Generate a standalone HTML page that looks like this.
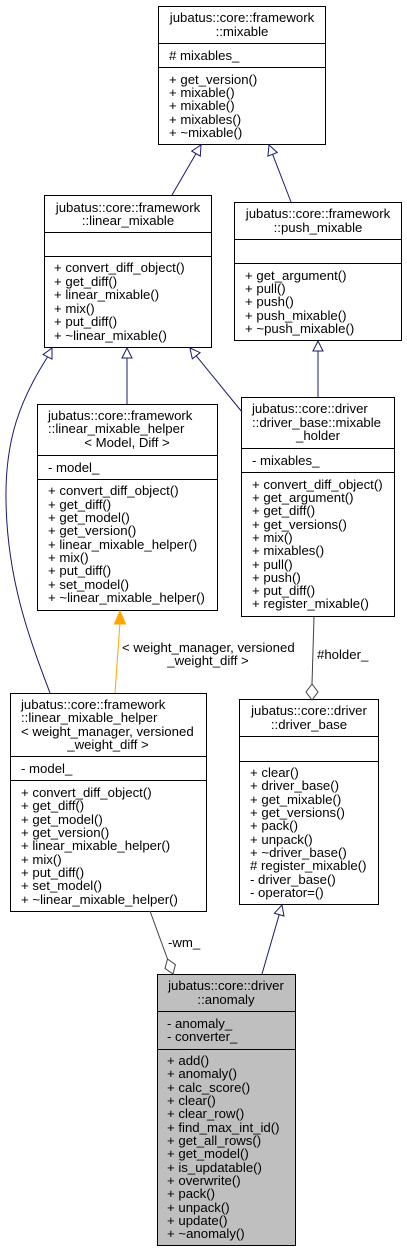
<!DOCTYPE html>
<html><head><meta charset="utf-8"><style>
html,body{margin:0;padding:0;background:#fff;}
svg{display:block;}
text{font-family:"Liberation Sans",Arial,sans-serif;font-size:13.2px;fill:#000;}
.b{fill:#fff;stroke:#000;stroke-width:1;}
.g{fill:#bfbfbf;stroke:#000;stroke-width:1;}
.e{fill:none;stroke:#191970;stroke-width:1;}
.t{fill:#fff;stroke:#191970;stroke-width:1;}
</style></head><body>
<svg width="407" height="1252" viewBox="0 0 407 1252" xmlns="http://www.w3.org/2000/svg">
<!-- mixable -->
<rect class="b" x="158.5" y="6.5" width="167" height="138"/>
<line x1="158.5" y1="43.5" x2="325.5" y2="43.5" stroke="#000"/>
<line x1="158.5" y1="67.5" x2="325.5" y2="67.5" stroke="#000"/>
<text x="242" y="22" text-anchor="middle">jubatus::core::framework</text>
<text x="242" y="36" text-anchor="middle">::mixable</text>
<text x="169" y="60">#&#160;mixables_</text>
<text x="169" y="84">+ get_version()</text>
<text x="169" y="97">+ mixable()</text>
<text x="169" y="110">+ mixable()</text>
<text x="169" y="124">+ mixables()</text>
<text x="169" y="137">+ ~mixable()</text>

<!-- linear_mixable -->
<rect class="b" x="44.5" y="195.5" width="167" height="152"/>
<line x1="44.5" y1="232.5" x2="211.5" y2="232.5" stroke="#000"/>
<line x1="44.5" y1="256.5" x2="211.5" y2="256.5" stroke="#000"/>
<text x="128" y="212" text-anchor="middle">jubatus::core::framework</text>
<text x="128" y="225" text-anchor="middle">::linear_mixable</text>
<text x="54" y="272">+ convert_diff_object()</text>
<text x="54" y="286">+ get_diff()</text>
<text x="54" y="299">+ linear_mixable()</text>
<text x="54" y="313">+ mix()</text>
<text x="54" y="326">+ put_diff()</text>
<text x="54" y="340">+ ~linear_mixable()</text>

<!-- push_mixable -->
<rect class="b" x="234.5" y="202.5" width="167" height="138"/>
<line x1="234.5" y1="239.5" x2="401.5" y2="239.5" stroke="#000"/>
<line x1="234.5" y1="263.5" x2="401.5" y2="263.5" stroke="#000"/>
<text x="318" y="218" text-anchor="middle">jubatus::core::framework</text>
<text x="318" y="232" text-anchor="middle">::push_mixable</text>
<text x="245" y="280">+ get_argument()</text>
<text x="245" y="293">+ pull()</text>
<text x="245" y="306">+ push()</text>
<text x="245" y="320">+ push_mixable()</text>
<text x="245" y="333">+ ~push_mixable()</text>

<!-- linear_mixable_helper<Model,Diff> -->
<rect class="b" x="37.5" y="404.5" width="180" height="206"/>
<line x1="37.5" y1="455.5" x2="217.5" y2="455.5" stroke="#000"/>
<line x1="37.5" y1="479.5" x2="217.5" y2="479.5" stroke="#000"/>
<text x="48" y="420">jubatus::core::framework</text>
<text x="48" y="433">::linear_mixable_helper</text>
<text x="127" y="447" text-anchor="middle">&lt; Model, Diff &gt;</text>
<text x="48" y="472">- model_</text>
<text x="48" y="495">+ convert_diff_object()</text>
<text x="48" y="509">+ get_diff()</text>
<text x="48" y="522">+ get_model()</text>
<text x="48" y="535">+ get_version()</text>
<text x="48" y="549">+ linear_mixable_helper()</text>
<text x="48" y="562">+ mix()</text>
<text x="48" y="575">+ put_diff()</text>
<text x="48" y="589">+ set_model()</text>
<text x="48" y="602">+ ~linear_mixable_helper()</text>

<!-- mixable_holder -->
<rect class="b" x="241.5" y="397.5" width="153" height="219"/>
<line x1="241.5" y1="448.5" x2="394.5" y2="448.5" stroke="#000"/>
<line x1="241.5" y1="472.5" x2="394.5" y2="472.5" stroke="#000"/>
<text x="252" y="413">jubatus::core::driver</text>
<text x="252" y="427">::driver_base::mixable</text>
<text x="318" y="440" text-anchor="middle">_holder</text>
<text x="252" y="465">- mixables_</text>
<text x="252" y="489">+ convert_diff_object()</text>
<text x="252" y="502">+ get_argument()</text>
<text x="252" y="515">+ get_diff()</text>
<text x="252" y="529">+ get_versions()</text>
<text x="252" y="542">+ mix()</text>
<text x="252" y="555">+ mixables()</text>
<text x="252" y="569">+ pull()</text>
<text x="252" y="582">+ push()</text>
<text x="252" y="595">+ put_diff()</text>
<text x="252" y="608">+ register_mixable()</text>

<!-- weight helper -->
<rect class="b" x="10.5" y="693.5" width="196" height="218"/>
<line x1="10.5" y1="756.5" x2="206.5" y2="756.5" stroke="#000"/>
<line x1="10.5" y1="780.5" x2="206.5" y2="780.5" stroke="#000"/>
<text x="21" y="709">jubatus::core::framework</text>
<text x="21" y="722">::linear_mixable_helper</text>
<text x="21" y="736">&lt; weight_manager, versioned</text>
<text x="108" y="749" text-anchor="middle">_weight_diff &gt;</text>
<text x="21" y="773">- model_</text>
<text x="21" y="797">+ convert_diff_object()</text>
<text x="21" y="810">+ get_diff()</text>
<text x="21" y="824">+ get_model()</text>
<text x="21" y="837">+ get_version()</text>
<text x="21" y="850">+ linear_mixable_helper()</text>
<text x="21" y="864">+ mix()</text>
<text x="21" y="877">+ put_diff()</text>
<text x="21" y="890">+ set_model()</text>
<text x="21" y="904">+ ~linear_mixable_helper()</text>

<!-- driver_base -->
<rect class="b" x="239.5" y="699.5" width="139" height="205"/>
<line x1="239.5" y1="736.5" x2="378.5" y2="736.5" stroke="#000"/>
<line x1="239.5" y1="761.5" x2="378.5" y2="761.5" stroke="#000"/>
<text x="309" y="715" text-anchor="middle">jubatus::core::driver</text>
<text x="309" y="729" text-anchor="middle">::driver_base</text>
<text x="250" y="777">+ clear()</text>
<text x="250" y="790">+ driver_base()</text>
<text x="250" y="804">+ get_mixable()</text>
<text x="250" y="817">+ get_versions()</text>
<text x="250" y="830">+ pack()</text>
<text x="250" y="844">+ unpack()</text>
<text x="250" y="857">+ ~driver_base()</text>
<text x="250" y="870">#&#160;register_mixable()</text>
<text x="250" y="884">- driver_base()</text>
<text x="250" y="897">- operator=()</text>

<!-- anomaly -->
<rect class="g" x="157.5" y="974.5" width="138" height="271"/>
<line x1="157.5" y1="1011.5" x2="295.5" y2="1011.5" stroke="#000"/>
<line x1="157.5" y1="1049.5" x2="295.5" y2="1049.5" stroke="#000"/>
<text x="226" y="990" text-anchor="middle">jubatus::core::driver</text>
<text x="226" y="1004" text-anchor="middle">::anomaly</text>
<text x="167" y="1028">- anomaly_</text>
<text x="167" y="1041">- converter_</text>
<text x="167" y="1065">+ add()</text>
<text x="167" y="1078">+ anomaly()</text>
<text x="167" y="1092">+ calc_score()</text>
<text x="167" y="1105">+ clear()</text>
<text x="167" y="1118">+ clear_row()</text>
<text x="167" y="1132">+ find_max_int_id()</text>
<text x="167" y="1145">+ get_all_rows()</text>
<text x="167" y="1158">+ get_model()</text>
<text x="167" y="1172">+ is_updatable()</text>
<text x="167" y="1185">+ overwrite()</text>
<text x="167" y="1198">+ pack()</text>
<text x="167" y="1212">+ unpack()</text>
<text x="167" y="1225">+ update()</text>
<text x="167" y="1238">+ ~anomaly()</text>

<!-- edges -->
<line class="e" x1="172" y1="195" x2="196" y2="153.6"/>
<polygon class="t" points="201,145 200.3,156.1 191.7,151.1"/>
<line class="e" x1="291" y1="202" x2="272.6" y2="154.3"/>
<polygon class="t" points="269,145 277.3,152.5 267.9,156.1"/>
<line class="e" x1="127" y1="358" x2="127" y2="404"/>
<polygon class="t" points="127,348 122,358 132,358"/>
<line class="e" x1="318" y1="351" x2="318" y2="397"/>
<polygon class="t" points="318,341 313,351 323,351"/>
<line class="e" x1="196.2" y1="355.8" x2="242" y2="412"/>
<polygon class="t" points="190,348 200.1,352.7 192.3,358.9"/>
<path class="e" d="M47.5,357 C20,400 5,440 6,500 C7,580 30,640 50,693"/>
<polygon class="t" points="52,348 52,359.1 43.1,354.6"/>
<line class="e" x1="279.2" y1="914.6" x2="262" y2="974"/>
<polygon class="t" points="282,905 284,916 274.4,913.2"/>
<!-- orange -->
<line x1="120" y1="622" x2="115" y2="693" stroke="#ffa500" stroke-width="1"/>
<polygon points="120,611 114.5,624 125.5,624" fill="#ffa500" stroke="#ffa500"/>
<text x="122" y="652">&lt; weight_manager, versioned</text>
<text x="208" y="665" text-anchor="middle">_weight_diff &gt;</text>
<!-- holder -->
<line x1="314" y1="617" x2="312" y2="684" stroke="#404040"/>
<polygon points="312,684 306,692 312,700 318,692" fill="#fff" stroke="#404040"/>
<text x="317" y="659">#holder_</text>
<!-- wm -->
<line x1="150" y1="911" x2="167.5" y2="959" stroke="#404040"/>
<polygon points="167.5,959 175.4,964.6 173,974 165,968.4" fill="#fff" stroke="#404040"/>
<text x="168" y="947">-wm_</text>
</svg>
</body></html>
